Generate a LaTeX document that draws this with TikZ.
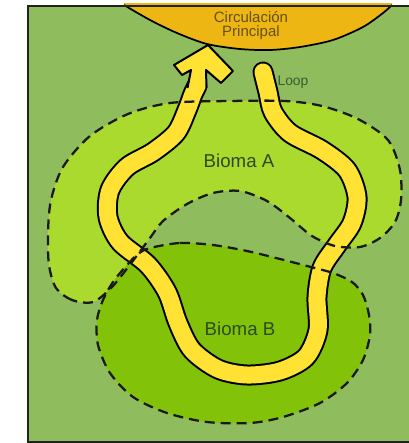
\documentclass[tikz,border=0pt]{standalone}
\usepackage{fontspec}
\setmainfont{Liberation Sans}
\definecolor{bgg}{RGB}{143,189,93}
\definecolor{biomaA}{RGB}{170,218,45}
\definecolor{biomaB}{RGB}{130,195,10}
\definecolor{rivery}{RGB}{255,226,52}
\definecolor{circo}{RGB}{238,182,18}
\definecolor{circtext}{RGB}{100,80,20}
\definecolor{biotext}{RGB}{45,75,25}
\definecolor{looptext}{RGB}{60,90,50}
\definecolor{framec}{RGB}{30,35,30}
\tikzset{
  dashline/.style={draw=black!90, line width=1.7pt, dash pattern=on 7.5pt off 4.5pt},
  riverline/.style={line width=1.5pt, double=rivery, double distance=12.75pt, line cap=round, line join=round},
  lbl/.style={inner sep=0pt, font=\fontsize{14}{15}\selectfont, text=biotext}
}
\begin{document}
\begin{tikzpicture}[x=0.75pt,y=-0.75pt]
\useasboundingbox (0,0) rectangle (408,443);
\fill[white] (0,0) rectangle (408,443);
\fill[bgg] (28,5.5) rectangle (412,441.5);
% Bioma A
\fill[biomaA] plot[smooth cycle] coordinates {(93,302) (72,300) (56,288) (49,265) (48,233) (51,200) (63,167) (90,136) (128,114) (170,103) (230,101) (285,101) (322,106) (358,119) (388,140) (400,170) (401,200) (395,222) (380,238) (360,247) (335,246) (312,236) (290,218) (267,201) (240,191) (213,193) (187,204) (163,221) (150,238) (132,262) (112,287)};
% Bioma B
\fill[biomaB] plot[smooth cycle] coordinates {(150,248) (180,243) (213,245) (247,251) (280,259) (307,266) (333,273) (352,282) (363,295) (369,315) (370,335) (363,360) (347,383) (320,403) (283,417) (250,423) (207,422) (167,413) (133,397) (110,373) (98,345) (97,320) (103,300) (113,282) (127,265) (138,254)};
% Circulacion principal
\fill[circo] plot[smooth] coordinates {(124,5) (150,20) (177,33) (207,44) (240,49) (270,50) (300,47) (333,40) (363,27) (383,13) (392,5)} -- (392,3) -- (124,3) -- cycle;
\draw[line width=1.3pt] plot[smooth] coordinates {(124,5) (150,20) (177,33) (207,44) (240,49) (270,50) (300,47) (333,40) (363,27) (383,13) (392,5)};
% River loop
\draw[riverline] plot[smooth] coordinates {(263,72) (268,92) (273,112) (290,133) (322,150) (347,170) (357,197) (352,223) (337,245) (322,268) (317,297) (318,330) (306,357) (280,371) (247,375) (218,369) (192,350) (178,323) (167,292) (148,265) (120,242) (108,217) (110,190) (127,167) (153,152) (176,133) (187,110) (193,94) (197,86)};
% Arrow head
\fill[rivery] (187,88) -- (191,70) -- (182,75) -- (174,65) -- (208,45) -- (233,71) -- (221,83) -- (206,70) -- (207,88) -- cycle;
\draw[line width=1.5pt, line join=round] (187.5,88) -- (191,70) -- (182,75) -- (174,65) -- (208,45) -- (233,71) -- (221,83) -- (206,70) -- (206.5,88);
% Dashed outlines
\draw[dashline] plot[smooth cycle] coordinates {(93,302) (72,300) (56,288) (49,265) (48,233) (51,200) (63,167) (90,136) (128,114) (170,103) (230,101) (285,101) (322,106) (358,119) (388,140) (400,170) (401,200) (395,222) (380,238) (360,247) (335,246) (312,236) (290,218) (267,201) (240,191) (213,193) (187,204) (163,221) (150,238) (132,262) (112,287)};
\draw[dashline] plot[smooth cycle] coordinates {(150,248) (180,243) (213,245) (247,251) (280,259) (307,266) (333,273) (352,282) (363,295) (369,315) (370,335) (363,360) (347,383) (320,403) (283,417) (250,423) (207,422) (167,413) (133,397) (110,373) (98,345) (97,320) (103,300) (113,282) (127,265) (138,254)};
% Frame
\draw[framec, line width=1.5pt] (28,5.5) rectangle (412,441.5);
% Labels
\node[inner sep=0pt, font=\fontsize{11.25}{12}\selectfont, text=circtext] (circ1) at (251,17) {Circulación};
\node[inner sep=0pt, font=\fontsize{11.25}{12}\selectfont, text=circtext] (circ2) at (251,33) {Principal};
\node[inner sep=0pt, font=\fontsize{10.4}{12}\selectfont, text=looptext] (loop) at (293,82) {Loop};
\node[lbl] (bioA) at (239,161) {Bioma A};
\node[lbl] (bioB) at (240,329) {Bioma B};
\end{tikzpicture}
\end{document}
